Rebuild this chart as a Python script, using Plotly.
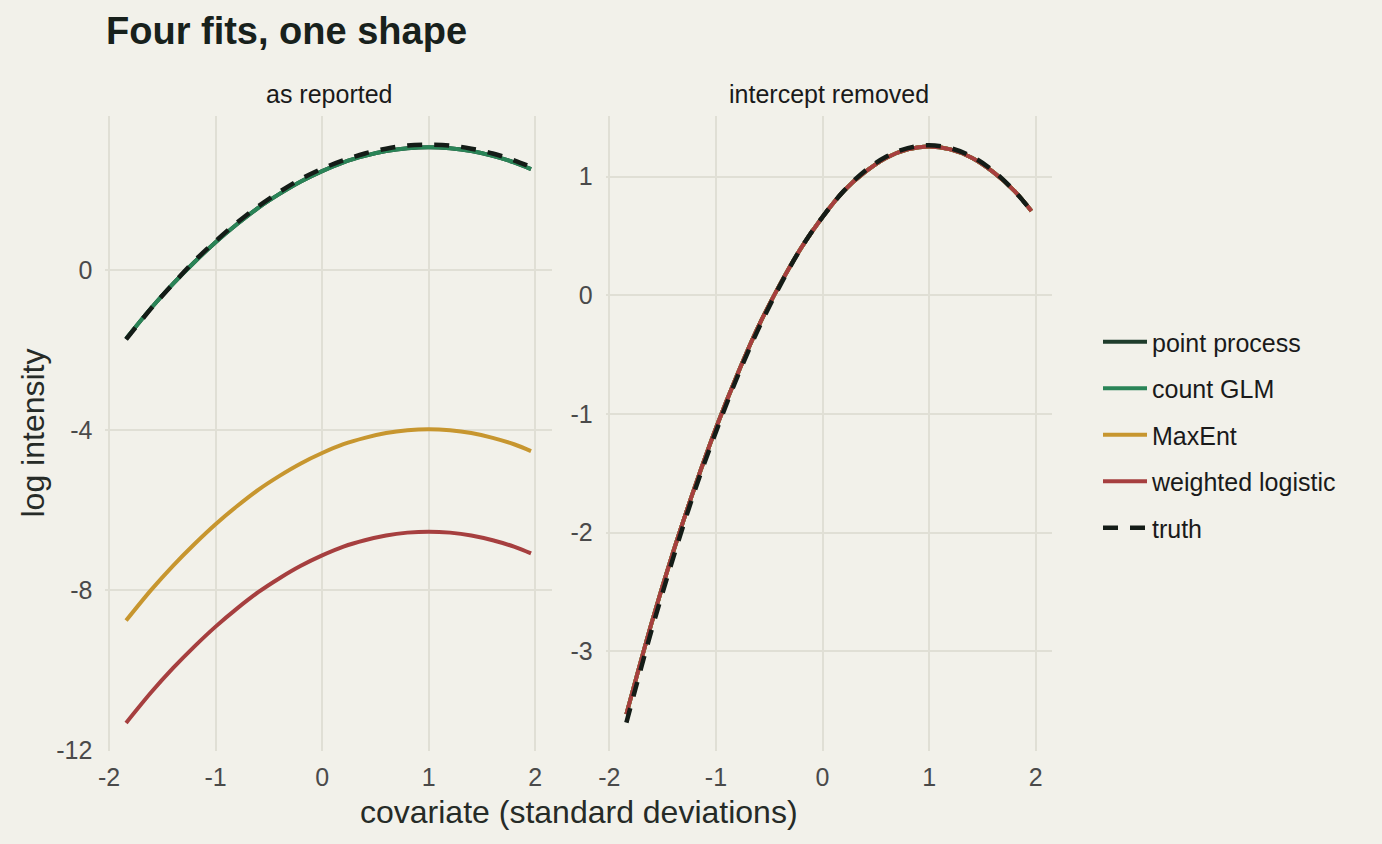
import plotly.graph_objects as go

# ---------------- data ----------------
x = [-1.84, -1.6, -1.4, -1.2, -1.0, -0.8, -0.6, -0.4, -0.2, 0.0,
     0.2, 0.4, 0.6, 0.8, 1.0, 1.2, 1.4, 1.6, 1.8, 1.96]

series_names = ["point process", "count GLM", "MaxEnt", "weighted logistic", "truth"]

# panel 1: as reported
pp_reported = [-1.71, -0.93, -0.34, 0.20, 0.70, 1.15, 1.56, 1.91, 2.22, 2.48,
               2.70, 2.86, 2.98, 3.05, 3.075, 3.05, 2.98, 2.86, 2.70, 2.53]
glm_reported = [-1.71, -0.93, -0.34, 0.20, 0.70, 1.15, 1.56, 1.91, 2.22, 2.48,
                2.70, 2.86, 2.98, 3.05, 3.075, 3.05, 2.98, 2.86, 2.70, 2.53]
maxent_reported = [-8.76, -7.98, -7.39, -6.85, -6.35, -5.90, -5.49, -5.14, -4.83, -4.57,
                   -4.35, -4.19, -4.07, -4.00, -3.975, -4.00, -4.07, -4.19, -4.35, -4.52]
wl_reported = [-11.32, -10.54, -9.95, -9.41, -8.91, -8.46, -8.05, -7.70, -7.39, -7.13,
               -6.91, -6.75, -6.63, -6.56, -6.535, -6.56, -6.63, -6.75, -6.91, -7.08]
truth_reported = [-1.73, -0.94, -0.34, 0.23, 0.73, 1.19, 1.60, 1.96, 2.28, 2.54,
                  2.75, 2.92, 3.04, 3.12, 3.14, 3.12, 3.04, 2.92, 2.75, 2.58]

# panel 2: intercept removed
pp_removed = [-3.53, -2.75, -2.16, -1.62, -1.12, -0.67, -0.26, 0.09, 0.40, 0.66,
              0.88, 1.04, 1.16, 1.23, 1.255, 1.23, 1.16, 1.04, 0.88, 0.71]
glm_removed = [-3.53, -2.75, -2.16, -1.62, -1.12, -0.67, -0.26, 0.09, 0.40, 0.66,
               0.88, 1.04, 1.16, 1.23, 1.255, 1.23, 1.16, 1.04, 0.88, 0.71]
maxent_removed = [-3.53, -2.75, -2.16, -1.62, -1.12, -0.67, -0.26, 0.09, 0.40, 0.66,
                  0.88, 1.04, 1.16, 1.23, 1.255, 1.23, 1.16, 1.04, 0.88, 0.71]
wl_removed = [-3.53, -2.75, -2.16, -1.62, -1.12, -0.67, -0.26, 0.09, 0.40, 0.66,
              0.88, 1.04, 1.16, 1.23, 1.255, 1.23, 1.16, 1.04, 0.88, 0.71]
truth_removed = [-3.60, -2.81, -2.21, -1.65, -1.15, -0.69, -0.28, 0.08, 0.40, 0.66,
                 0.88, 1.05, 1.17, 1.24, 1.265, 1.24, 1.17, 1.05, 0.88, 0.71]

x_tickvals = [-2, -1, 0, 1, 2]
x_ticktext = ["-2", "-1", "0", "1", "2"]
y1_tickvals = [0, -4, -8, -12]
y1_ticktext = ["0", "-4", "-8", "-12"]
y2_tickvals = [1, 0, -1, -2, -3]
y2_ticktext = ["1", "0", "-1", "-2", "-3"]

# ---------------- styling ----------------
W, H = 1382, 844
BG = "#F2F1EA"
GRID = "#E0DFD5"
FONT = "Liberation Sans, Arial, Helvetica, sans-serif"
colors = {
    "point process": "#1F3D2C",
    "count GLM": "#2A8457",
    "MaxEnt": "#C7962F",
    "weighted logistic": "#A63F3F",
    "truth": "#141C17",
}

panel1 = [pp_reported, glm_reported, maxent_reported, wl_reported, truth_reported]
panel2 = [pp_removed, glm_removed, maxent_removed, wl_removed, truth_removed]

fig = go.Figure()
for i, (ax, data) in enumerate([("", panel1), ("2", panel2)]):
    for name, ys in zip(series_names, data):
        is_truth = name == "truth"
        fig.add_trace(go.Scatter(
            x=x, y=ys, mode="lines", name=name,
            xaxis="x" + ax, yaxis="y" + ax,
            line=dict(color=colors[name], width=4.5 if is_truth else 4,
                      dash="15px,12px" if is_truth else "solid", shape="spline"),
            legendgroup=name, showlegend=(i == 0),
            hoverinfo="skip",
        ))

def px_x(p):
    return p / W

def px_y(p):
    return 1 - p / H

xd1 = [px_x(105.4), px_x(551.6)]
xd2 = [px_x(605.7), px_x(1052)]
yd = [px_y(751), px_y(116)]

axis_common = dict(showgrid=True, gridcolor=GRID, gridwidth=1.6, zeroline=False,
                   showline=False, ticks="", automargin=False,
                   tickfont=dict(family=FONT, size=25, color="#4A4A4A"))

fig.update_layout(
    width=W, height=H, autosize=False,
    paper_bgcolor=BG, plot_bgcolor=BG,
    margin=dict(l=0, r=0, t=0, b=0),
    font=dict(family=FONT, color="#1A1A1A"),
    xaxis=dict(domain=xd1, range=[-2.034, 2.153], anchor="y",
               tickvals=x_tickvals, ticktext=x_ticktext, ticklabelstandoff=9, **axis_common),
    yaxis=dict(domain=yd, range=[-12.02, 3.857], anchor="x",
               tickvals=y1_tickvals, ticktext=y1_ticktext, ticklabelstandoff=12, **axis_common),
    xaxis2=dict(domain=xd2, range=[-2.034, 2.153], anchor="y2",
                tickvals=x_tickvals, ticktext=x_ticktext, ticklabelstandoff=9, **axis_common),
    yaxis2=dict(domain=yd, range=[-3.839, 1.511], anchor="x2",
                tickvals=y2_tickvals, ticktext=y2_ticktext, ticklabelstandoff=12, **axis_common),
    legend=dict(x=px_x(1098), y=px_y(435), xanchor="left", yanchor="middle",
                bgcolor="rgba(0,0,0,0)", font=dict(family=FONT, size=25, color="#1A1A1A"),
                tracegroupgap=11, itemwidth=44),
    showlegend=True,
    annotations=[
        dict(text="<b>Four fits, one shape</b>", x=px_x(104), y=px_y(31), xref="paper", yref="paper",
             xanchor="left", yanchor="middle", showarrow=False,
             font=dict(family=FONT, size=38, color="#18211C")),
        dict(text="as reported", x=(xd1[0] + xd1[1]) / 2, y=px_y(94), xref="paper", yref="paper",
             xanchor="center", yanchor="middle", showarrow=False,
             font=dict(family=FONT, size=25, color="#1A1A1A")),
        dict(text="intercept removed", x=(xd2[0] + xd2[1]) / 2, y=px_y(94), xref="paper", yref="paper",
             xanchor="center", yanchor="middle", showarrow=False,
             font=dict(family=FONT, size=25, color="#1A1A1A")),
        dict(text="covariate (standard deviations)", x=(xd1[0] + xd2[1]) / 2, y=px_y(812),
             xref="paper", yref="paper", xanchor="center", yanchor="middle", showarrow=False,
             font=dict(family=FONT, size=32, color="#262B27")),
        dict(text="log intensity", x=px_x(32), y=(yd[0] + yd[1]) / 2, xref="paper", yref="paper",
             xanchor="center", yanchor="middle", showarrow=False, textangle=-90,
             font=dict(family=FONT, size=32, color="#262B27")),
    ],
)

fig.write_html("out.html")
